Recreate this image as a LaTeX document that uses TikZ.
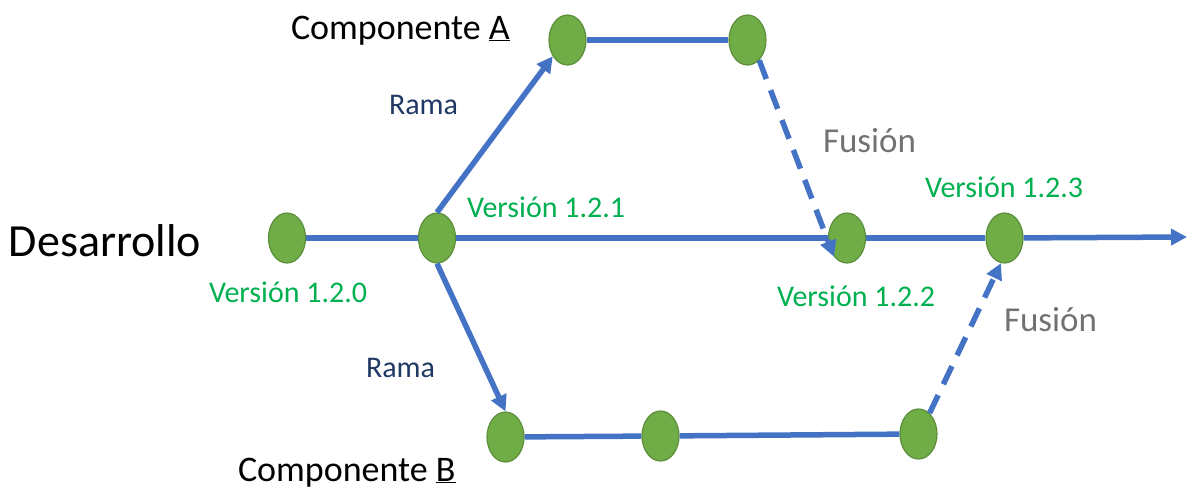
\documentclass[tikz,border=0pt]{standalone}
\usepackage{fontspec}
\setmainfont{Carlito}
\usetikzlibrary{arrows.meta}
\usetikzlibrary{shapes.geometric}
\definecolor{lineblue}{HTML}{4472C4}
\definecolor{dotfill}{HTML}{70AD47}
\definecolor{dotdraw}{HTML}{5B8E3A}
\definecolor{vgreen}{HTML}{00B050}
\definecolor{ramanavy}{HTML}{203864}
\definecolor{fusgray}{HTML}{767171}
\tikzset{
  commit/.style={ellipse, draw=dotdraw, line width=1.2pt, fill=dotfill, minimum width=37pt, minimum height=50pt, inner sep=0pt},
  flow/.style={draw=lineblue, line width=5.5pt},
  branch/.style={flow, -{Triangle[length=16pt,width=16pt]}},
  merge/.style={flow, dash pattern=on 20pt off 12pt, -{Triangle[length=16pt,width=16pt]}},
  lbl/.style={anchor=base west, inner sep=0pt, outer sep=0pt},
  vlbl/.style={lbl, text=vgreen, font=\fontsize{30}{34}\selectfont},
  ramalbl/.style={lbl, text=ramanavy, font=\fontsize{30}{34}\selectfont},
  fuslbl/.style={lbl, text=fusgray, font=\fontsize{35}{40}\selectfont},
  complbl/.style={lbl, text=black, font=\fontsize{36}{40}\selectfont}
}
\begin{document}
\begin{tikzpicture}[x=1pt, y=-1pt]
\useasboundingbox (0,0) rectangle (1187,491);
% commits
\node[commit] (d0) at (287,238) {};
\node[commit] (d1) at (437,238) {};
\node[commit] (d2) at (847,238) {};
\node[commit] (d3) at (1004.5,238) {};
\node[commit] (a1) at (567.5,40) {};
\node[commit] (a2) at (747.5,40) {};
\node[commit] (b1) at (505.5,437) {};
\node[commit] (b2) at (660.5,436) {};
\node[commit] (b3) at (918.5,434) {};
\coordinate (dend) at (1187,237);
% main line
\draw[flow] (d0) -- (d1);
\draw[flow] (d1) -- (d2);
\draw[flow] (d2) -- (d3);
\draw[branch] (d3) -- (dend);
% component A
\draw[branch] (d1.north) -- (a1.228);
\draw[flow] (a1) -- (a2);
\draw[merge] (a2.300) -- (d2.235);
% component B
\draw[branch] (d1.south) -- (b1.north);
\draw[flow] (b1) -- (b2);
\draw[flow] (b2) -- (b3);
\draw[merge] (b3.62) -- (d3.262);
% labels
\node[lbl, font=\fontsize{46}{50}\selectfont] (tdes) at (9,256) {Desarrollo};
\node[complbl] (tca) at (291,39) {Componente \underline{A}};
\node[complbl] (tcb) at (238,481) {Componente \underline{B}};
\node[ramalbl] (tr1) at (389,114) {Rama};
\node[ramalbl] (tr2) at (366,377) {Rama};
\node[vlbl] (v0) at (209,302) {Versión 1.2.0};
\node[vlbl] (v1) at (467,217) {Versión 1.2.1};
\node[vlbl] (v2) at (777,306) {Versión 1.2.2};
\node[vlbl] (v3) at (925,197) {Versión 1.2.3};
\node[fuslbl] (f1) at (823,152) {Fusión};
\node[fuslbl] (f2) at (1004,331) {Fusión};
\end{tikzpicture}
\end{document}
